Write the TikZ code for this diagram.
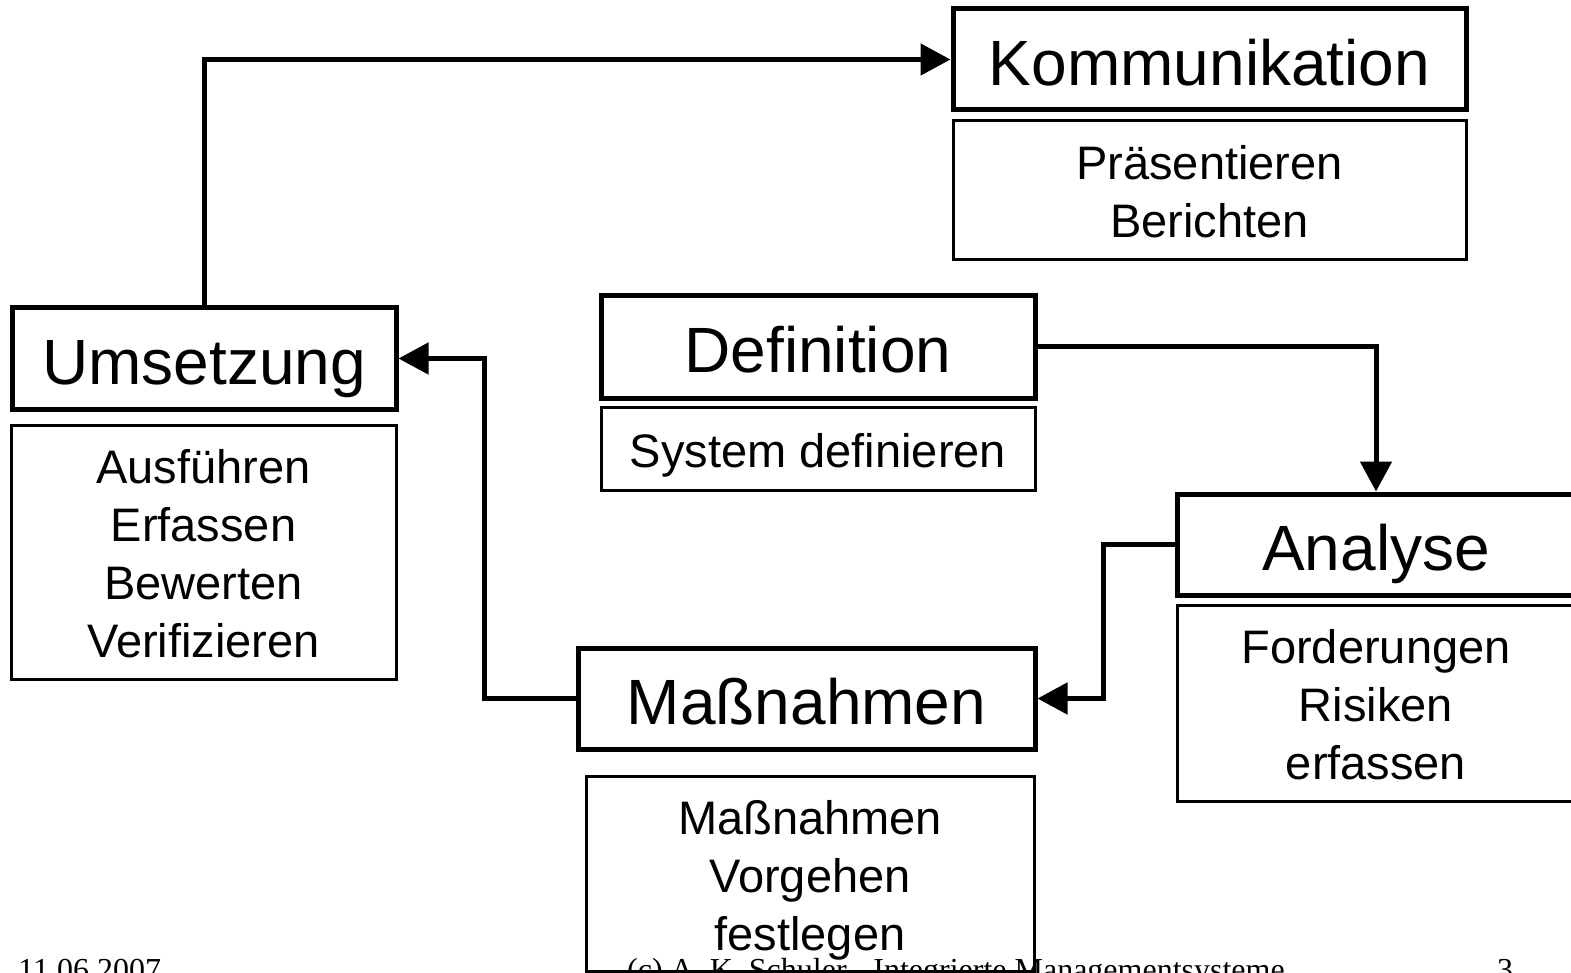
\documentclass[tikz,border=0pt]{standalone}
\usepackage{fontspec}
\setmainfont{Liberation Sans}
\newfontfamily\footfont{Liberation Serif}
\usetikzlibrary{arrows.meta}
\newcommand{\firstline}{\rule{0pt}{37pt}}
\begin{document}
\begin{tikzpicture}[x=1pt,y=-1pt,
  titlebox/.style={draw,line width=5pt,rectangle,inner sep=0pt,text height=52pt,text depth=0pt,font=\fontsize{64}{70}\selectfont},
  subbox/.style={draw,line width=3pt,rectangle,inner sep=0pt,align=center,font=\fontsize{47}{58}\selectfont},
  conn/.style={line width=5pt,-{Triangle[length=30pt,width=31pt]}},
  foot/.style={inner sep=0pt,font=\footfont\fontsize{32}{32}\selectfont}]
\useasboundingbox (0,0) rectangle (1571,973);
\clip (0,0) rectangle (1571,973);
\node[titlebox,minimum width=513pt,minimum height=101pt] (komm) at (1209.5,59.5) {Kommunikation};
\node[subbox,minimum width=513pt,minimum height=139pt] (praes) at (1209.5,190.5) {\firstline Präsentieren\\Berichten};
\node[titlebox,minimum width=384pt,minimum height=101pt] (ums) at (204,358.5) {Umsetzung};
\node[subbox,minimum width=385pt,minimum height=254pt] (ausf) at (203.5,552) {\firstline Ausführen\\Erfassen\\Bewerten\\Verifizieren};
\node[titlebox,minimum width=434pt,minimum height=102pt] (defi) at (818,347) {Definition};
\node[subbox,minimum width=434pt,minimum height=83pt] (sysd) at (818,448.5) {\firstline\smash{System definieren}};
\node[titlebox,minimum width=398pt,minimum height=101pt] (anal) at (1376,544.5) {Analyse};
\node[subbox,minimum width=398pt,minimum height=196pt] (ford) at (1376,703) {\firstline Forderungen\\Risiken\\erfassen};
\node[titlebox,minimum width=457pt,minimum height=101pt] (mass) at (806.5,698.5) {Maßnahmen};
\node[subbox,minimum width=448pt,minimum height=195pt] (massd) at (810,874) {\firstline Maßnahmen\\Vorgehen\\\smash{festlegen}};
\draw[conn] (ums.north) |- (komm.west);
\draw[conn] (defi.east) -| (anal.north);
\draw[conn] (anal.west) -- ++(-71,0) coordinate (k1) |- (mass.east);
\draw[conn] (mass.west) -- ++(-91,0) coordinate (k2) |- (ums.east);
\node[foot,anchor=base west] (date) at (18,980) {11.06.2007};
\node[foot,anchor=base west] (copy) at (627,980) {(c) A. K. Schuler - Integrierte Managementsysteme};
\node[foot,anchor=base west] (page) at (1497,980) {3};
\end{tikzpicture}
\end{document}
